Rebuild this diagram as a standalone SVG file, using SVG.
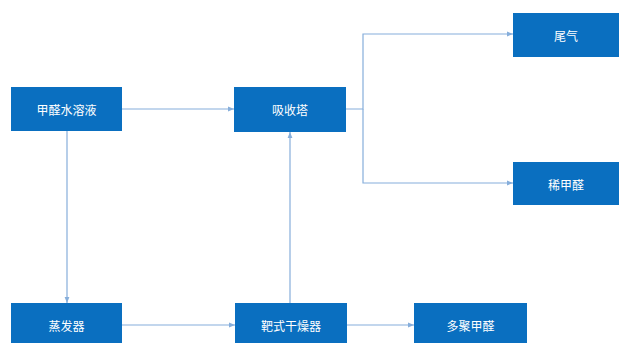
<svg xmlns="http://www.w3.org/2000/svg" width="619" height="343" viewBox="0 0 619 343">
<style>
.box{fill:#0a6fc0;}
.t{font-family:"Noto Sans CJK SC","Noto Sans",sans-serif;font-size:12px;fill:#ffffff;text-anchor:middle;dominant-baseline:central;}
.c{fill:none;stroke:#86aedb;stroke-width:1.2;}
</style>
<defs>
<marker id="a" viewBox="0 0 10 10" refX="10" refY="5" markerWidth="6" markerHeight="6" orient="auto" markerUnits="userSpaceOnUse">
<path d="M0,1 L10,5 L0,9 Z" fill="#86aedb"/>
</marker>
</defs>
<rect width="619" height="343" fill="#ffffff"/>
<g id="connectors">
<path class="c" d="M122,109 H234" marker-end="url(#a)"/>
<path class="c" d="M346,109 H363 V34 H513" marker-end="url(#a)"/>
<path class="c" d="M363,109 V183 H513" marker-end="url(#a)"/>
<path class="c" d="M67,131 V303" marker-end="url(#a)"/>
<path class="c" d="M122,325 H235" marker-end="url(#a)"/>
<path class="c" d="M290,303 V132" marker-end="url(#a)"/>
<path class="c" d="M347,325 H414" marker-end="url(#a)"/>
</g>
<g id="n1"><rect class="box" x="11" y="87" width="111" height="44"/><text class="t" x="66.5" y="109">甲醛水溶液</text></g>
<g id="n2"><rect class="box" x="234" y="87" width="112" height="45"/><text class="t" x="290" y="109">吸收塔</text></g>
<g id="n3"><rect class="box" x="513" y="13" width="106" height="44"/><text class="t" x="566" y="35">尾气</text></g>
<g id="n4"><rect class="box" x="513" y="162" width="106" height="43"/><text class="t" x="566" y="184">稀甲醛</text></g>
<g id="n5"><rect class="box" x="11" y="303" width="111" height="40"/><text class="t" x="66.5" y="325">蒸发器</text></g>
<g id="n6"><rect class="box" x="235" y="303" width="112" height="40"/><text class="t" x="291" y="325">靶式干燥器</text></g>
<g id="n7"><rect class="box" x="414" y="303" width="113" height="40"/><text class="t" x="470.5" y="325">多聚甲醛</text></g>
</svg>
